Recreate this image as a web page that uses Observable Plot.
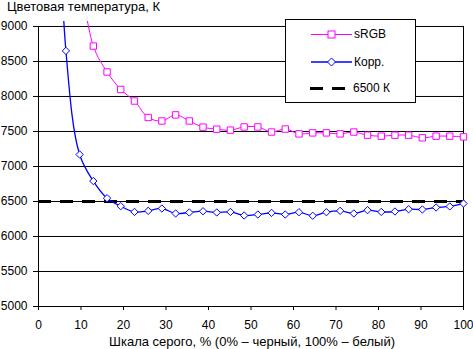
<!DOCTYPE html>
<html>
<head>
<meta charset="utf-8">
<script src="https://cdn.jsdelivr.net/npm/d3@7"></script>
<script src="https://cdn.jsdelivr.net/npm/@observablehq/plot@0.6"></script>
<style>
  body { margin: 0; background: #fff; }
  #wrap { position: relative; width: 473px; height: 349px; font-family: "Liberation Sans", Arial, sans-serif; font-size: 12px; color: #000; }
  .abs { position: absolute; white-space: nowrap; line-height: 14px; }
  .big { font-size: 13px; }
  #legend { position: absolute; left: 285px; top: 19px; width: 129px; height: 82px; border: 1px solid #000; background: #fff; }
</style>
</head>
<body>
<div id="wrap">
  <div class="abs big" style="left:7px; top:0px;">Цветовая температура, К</div>
  <div class="abs big" style="left:252px; top:335px; transform: translateX(-50%);">Шкала серого, % (0% – черный, 100% – белый)</div>
</div>
<script>
// Gray levels, %
const srgbX = [9.68, 12.90, 16.13, 19.35, 22.58, 25.81, 29.03, 32.26, 35.48, 38.71, 41.94, 45.16, 48.39, 51.61, 54.84, 58.06, 61.29, 64.52, 67.74, 70.97, 74.19, 77.42, 80.65, 83.87, 87.10, 90.32, 93.55, 96.77, 100];
const srgbY = [9780, 8720, 8350, 8100, 7935, 7700, 7650, 7737, 7650, 7562, 7533, 7519, 7565, 7565, 7492, 7535, 7466, 7480, 7480, 7466, 7492, 7447, 7433, 7447, 7447, 7410, 7433, 7433, 7423];
const korrX = [3.23, 6.45, 9.68, 12.90, 16.13, 19.35, 22.58, 25.81, 29.03, 32.26, 35.48, 38.71, 41.94, 45.16, 48.39, 51.61, 54.84, 58.06, 61.29, 64.52, 67.74, 70.97, 74.19, 77.42, 80.65, 83.87, 87.10, 90.32, 93.55, 96.77, 100];
const korrY = [13500, 8651, 7171, 6792, 6547, 6433, 6351, 6366, 6400, 6329, 6343, 6361, 6343, 6351, 6300, 6314, 6337, 6314, 6347, 6296, 6347, 6366, 6329, 6376, 6351, 6357, 6390, 6386, 6414, 6429, 6471];
const refLevel = [6500];
const xTicks = [0, 10, 20, 30, 40, 50, 60, 70, 80, 90, 100];
const yTicks = [5000, 5500, 6000, 6500, 7000, 7500, 8000, 8500, 9000];
const seriesNames = ["sRGB", "Корр.", "6500 К"];

const srgb = srgbX.map((x, i) => ({x, y: srgbY[i]}));
const korr = korrX.map((x, i) => ({x, y: korrY[i]}));
const inView = d => d.y <= 9000;

const chart = Plot.plot({
  width: 473,
  height: 349,
  marginLeft: 38,
  marginRight: 10,
  marginTop: 21,
  marginBottom: 43,
  style: {fontFamily: '"Liberation Sans", Arial, sans-serif', fontSize: "12px", color: "#000", background: "transparent", overflow: "visible"},
  x: {domain: [0, 100], ticks: xTicks, tickSize: 4, tickPadding: 10, tickFormat: d => String(d), label: null},
  y: {domain: [5000, 9071], ticks: yTicks, tickSize: 5, tickPadding: 6, tickFormat: d => String(d), label: null},
  marks: [
    Plot.ruleY(yTicks, {x1: 0, x2: 100, stroke: "#000", strokeWidth: 1}),
    Plot.ruleX([0, 100], {y1: 5000, y2: 9000, stroke: "#000", strokeWidth: 1}),
    Plot.ruleY(refLevel, {x1: 0, x2: 100, stroke: "#000", strokeWidth: 3, strokeDasharray: "13,9"}),
    Plot.line(srgb, {x: "x", y: "y", stroke: "#FF00FF", strokeWidth: 1, curve: "catmull-rom", clip: true}),
    Plot.dot(srgb.filter(inView), {x: "x", y: "y", symbol: "square", r: 3.6, stroke: "#FF00FF", fill: "#fff", strokeWidth: 1}),
    Plot.line(korr, {x: "x", y: "y", stroke: "#0000FF", strokeWidth: 1.3, curve: "catmull-rom", clip: true}),
    Plot.dot(korr.filter(inView), {x: "x", y: "y", symbol: "diamond2", r: 3.3, stroke: "#0000FF", fill: "#fff", strokeWidth: 1})
  ]
});
chart.style.position = "absolute";
chart.style.left = "0px";
chart.style.top = "0px";
const wrap = document.getElementById("wrap");
wrap.appendChild(chart);

// Legend
const leg = document.createElement("div");
leg.id = "legend";
leg.innerHTML = `
<svg width="129" height="82" style="position:absolute;left:0;top:0;overflow:visible">
  <line x1="25" x2="66" y1="14.5" y2="14.5" stroke="#FF00FF" stroke-width="1"/>
  <rect x="42" y="11" width="7" height="7" fill="#fff" stroke="#FF00FF"/>
  <line x1="25" x2="66" y1="42" y2="42" stroke="#0000FF" stroke-width="1.3"/>
  <path d="M45.5,38 L49.5,42 L45.5,46 L41.5,42 Z" fill="#fff" stroke="#0000FF"/>
  <line x1="24" x2="59" y1="68.5" y2="68.5" stroke="#000" stroke-width="3" stroke-dasharray="13,9"/>
</svg>
<div class="abs" style="left:68px; top:7px;">${seriesNames[0]}</div>
<div class="abs" style="left:68px; top:35px;">${seriesNames[1]}</div>
<div class="abs" style="left:67px; top:61px;">${seriesNames[2]}</div>`;
wrap.appendChild(leg);
</script>
</body>
</html>
